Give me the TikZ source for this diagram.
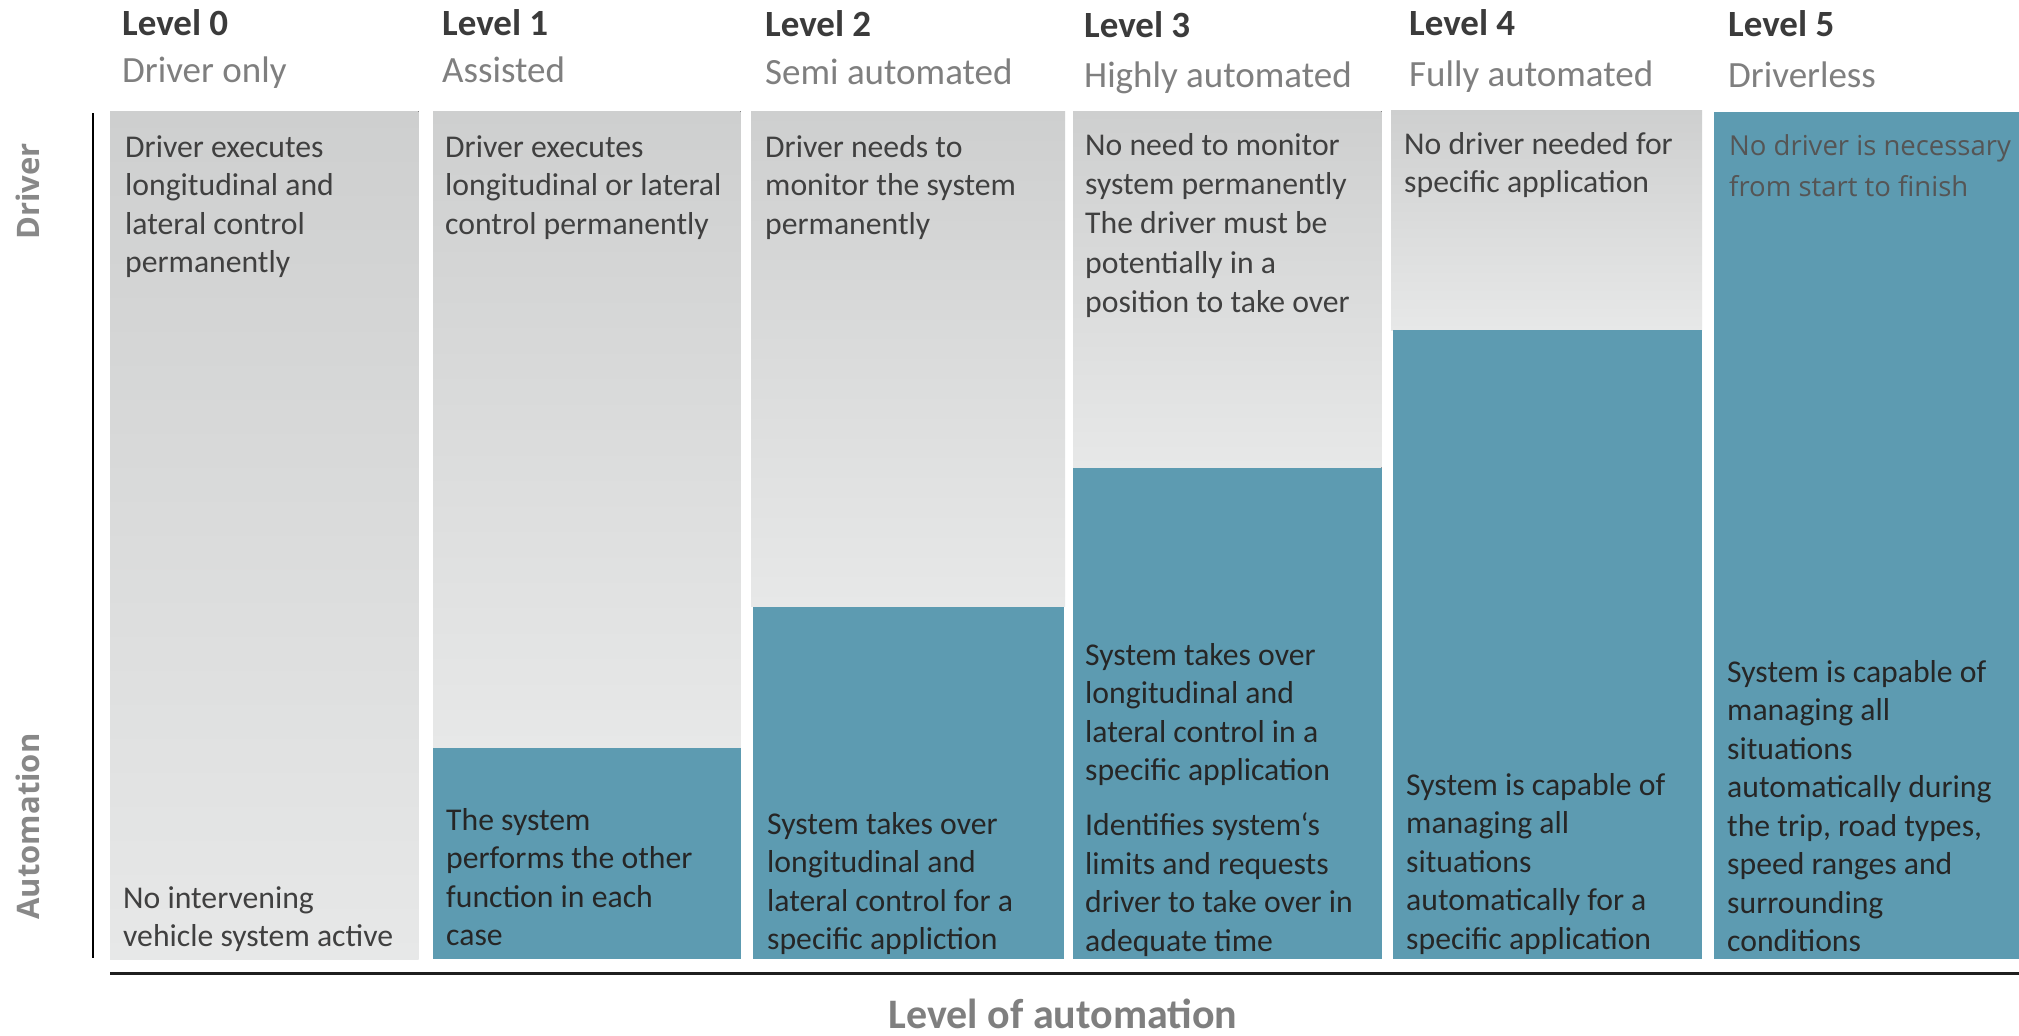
\documentclass[tikz,border=0pt]{standalone}
\usepackage{fontspec}
\setmainfont{Carlito}
\newfontfamily\osfont{Open Sans}
\newfontfamily\osbold{Open Sans}[UprightFont=* Bold]
\newcommand\tstrutA{\rule{0pt}{26bp}}
\newcommand\tstrutB{\rule{0pt}{24bp}}
\begin{document}
\begin{tikzpicture}[x=1bp,y=-1bp,
  bodyfont/.style={font=\fontsize{31.7bp}{38.5bp}\selectfont},
  txt/.style={bodyfont,anchor=north west,inner sep=0pt,align=left,text=txtgray},
  txtb/.style={txt,text=txtdark},
  lvl/.style={anchor=base west,inner sep=0pt,font=\fontsize{37bp}{40bp}\selectfont\bfseries,text=headgray},
  sublvl/.style={anchor=base west,inner sep=0pt,font=\fontsize{37bp}{40bp}\selectfont,text=subgray},
  sidelbl/.style={rotate=90,inner sep=0pt,font=\fontsize{31bp}{34bp}\selectfont\osbold,text=sidegray},
  graybox/.style={top color=graytop,bottom color=graybot},
  bluebox/.style={fill=bluef}]
\definecolor{bluef}{HTML}{5D9BB1}
\definecolor{graytop}{HTML}{CECFCF}
\definecolor{graybot}{HTML}{E7E8E8}
\definecolor{txtgray}{HTML}{404040}
\definecolor{txtdark}{HTML}{262626}
\definecolor{headgray}{HTML}{3B3B3B}
\definecolor{subgray}{HTML}{7F7F7F}
\definecolor{sidegray}{HTML}{888888}
\definecolor{topfive}{HTML}{555555}
\useasboundingbox (0,0) rectangle (2019,1035);
\fill[white] (0,0) rectangle (2019,1035);

% columns
\fill[graybox] (110,111) rectangle (418.5,959);
\fill[graybox] (433,111) rectangle (740.5,748);
\fill[bluebox] (433,748) rectangle (740.5,959);
\fill[graybox] (751,111) rectangle (1065,606.5);
\fill[bluebox] (753,606.5) rectangle (1063.5,959);
\fill[graybox] (1073,111) rectangle (1381.5,467.5);
\fill[bluebox] (1073,467.5) rectangle (1381.5,959);
\fill[graybox] (1391,110) rectangle (1702,330);
\fill[bluebox] (1393,330) rectangle (1702,959);
\fill[bluebox] (1714,112) rectangle (2019,959);

% axes
\coordinate (vtop) at (92.5,113);
\coordinate (vbot) at (92.5,958);
\coordinate (hl) at (110,973.5);
\coordinate (hr) at (2019,973.5);
\draw[line width=2bp,black] (vtop) -- (vbot);
\draw[line width=3bp,black!88] (hl) -- (hr);

% side labels
\node[sidelbl] (drv) at (27.5,191.5) {Driver};
\node[sidelbl] (aut) at (27.5,826.5) {Automation};
\node[anchor=base,inner sep=0pt,font=\fontsize{42bp}{44bp}\selectfont\bfseries,text=subgray] (loa) at (1063,1028) {Level of automation};

% headers
\node[lvl] (l0) at (122,35) {Level 0};
\node[sublvl] (s0) at (122,82) {Driver only};
\node[lvl] (l1) at (442,35) {Level 1};
\node[sublvl] (s1) at (442,82) {Assisted};
\node[lvl] (l2) at (765,36) {Level 2};
\node[sublvl] (s2) at (765,84) {Semi automated};
\node[lvl] (l3) at (1084,37) {Level 3};
\node[sublvl] (s3) at (1084,87) {Highly automated};
\node[lvl] (l4) at (1409,35) {Level 4};
\node[sublvl] (s4) at (1409,86) {Fully automated};
\node[lvl] (l5) at (1728,36) {Level 5};
\node[sublvl] (s5) at (1728,87) {Driverless};

% column 0  (y = first baseline - 26)
\node[txt] (d0) at (125,131) {\tstrutA Driver executes\\longitudinal and\\lateral control\\permanently};
\node[txt] (a0) at (123,882) {\tstrutA No intervening\\vehicle system active};
% column 1
\node[txt] (d1) at (445,131) {\tstrutA Driver executes\\longitudinal or lateral\\control permanently};
\node[txtb] (a1) at (446,804) {\tstrutA The system\\performs the other\\function in each\\case};
% column 2
\node[txt] (d2) at (765,131) {\tstrutA Driver needs to\\monitor the system\\permanently};
\node[txtb] (a2) at (767,808) {\tstrutA System takes over\\longitudinal and\\lateral control for a\\specific appliction};
% column 3
\node[txt,font=\fontsize{31.7bp}{39.3bp}\selectfont] (d3) at (1085,129) {\tstrutA No need to monitor\\system permanently\\The driver must be\\potentially in a\\position to take over};
\node[txtb] (a3) at (1085,639) {\tstrutA System takes over\\longitudinal and\\lateral control in a\\specific application\\[16.5bp]Identifies system‘s\\limits and requests\\driver to take over in\\adequate time};
% column 4
\node[txt] (d4) at (1404,128) {\tstrutA No driver needed for\\specific application};
\node[txtb] (a4) at (1406,769) {\tstrutA System is capable of\\managing all\\situations\\automatically for a\\specific application};
% column 5
\node[anchor=north west,inner sep=0pt,align=left,text=topfive,font=\fontsize{27.5bp}{41bp}\selectfont\osfont] (d5) at (1729,131) {\tstrutB No driver is necessary\\from start to finish};
\node[txtb] (a5) at (1727,656) {\tstrutA System is capable of\\managing all\\situations\\automatically during\\the trip, road types,\\speed ranges and\\surrounding\\conditions};
\end{tikzpicture}
\end{document}
